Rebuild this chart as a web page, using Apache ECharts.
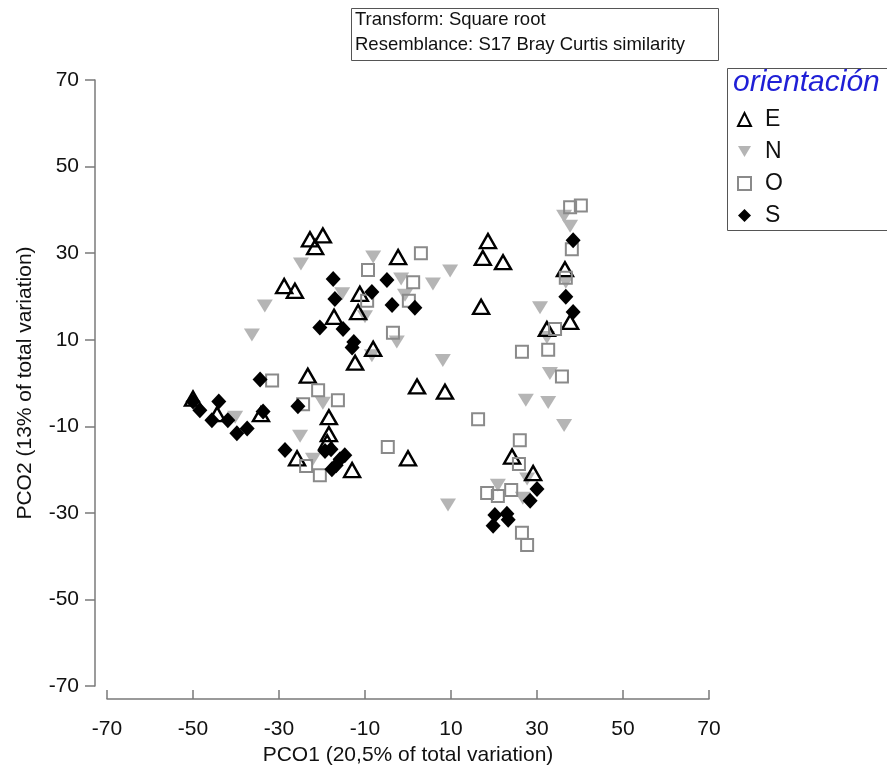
<!DOCTYPE html>
<html>
<head>
<meta charset="utf-8">
<script src="https://cdn.jsdelivr.net/npm/echarts@6/dist/echarts.min.js"></script>
<style>
  html, body { margin: 0; padding: 0; background: #fff; }
  #chart { width: 887px; height: 771px; }
</style>
</head>
<body>
<div id="chart"></div>
<script>
// PCO ordination scores per orientation group
const groupNames = ['E', 'N', 'O', 'S'];

const pointsE = [
  [-22.8, 33.2], [-19.8, 34.1], [-21.6, 31.4], [-28.8, 22.4], [-26.3, 21.3],
  [-17.2, 15.3], [-11.2, 20.6], [-11.6, 16.4], [-8.1, 7.9], [-12.3, 4.7],
  [-2.3, 29.1], [18.6, 32.8], [17.4, 28.9], [22.1, 27.9], [17.0, 17.6],
  [2.1, -0.8], [8.6, -2.0], [-23.3, 1.7], [-50.0, -3.6], [-34.2, -7.2],
  [-44.4, -7.2], [-18.4, -7.9], [-18.4, -11.8], [-18.8, -13.7], [-25.8, -17.4],
  [-13.0, -20.1], [24.2, -17.0], [29.1, -20.8], [0.0, -17.4], [36.5, 26.3],
  [37.7, 14.1], [32.3, 12.5]
];

const pointsN = [
  [-24.9, 27.5], [-33.3, 17.8], [-36.3, 11.1], [-15.3, 20.6], [-8.1, 29.1],
  [-10.0, 15.3], [-1.6, 24.0], [5.8, 22.9], [9.8, 25.9], [-0.7, 20.3],
  [-2.6, 9.5], [8.1, 5.2], [-8.4, 6.3], [36.3, 38.5], [37.7, 36.2],
  [30.7, 17.4], [36.7, 23.3], [32.3, 10.5], [33.0, 2.2], [27.4, -4.0],
  [32.6, -4.5], [36.3, -9.8], [9.3, -28.2], [20.9, -23.6], [27.7, -22.2],
  [26.7, -26.6], [-40.2, -7.9], [-19.8, -4.7], [-25.1, -12.3], [-22.1, -17.6]
];

const pointsO = [
  [-9.3, 26.1], [-9.5, 19.0], [3.0, 30.0], [1.2, 23.3], [0.2, 19.0],
  [-3.5, 11.6], [37.7, 40.6], [40.2, 41.0], [38.1, 30.9], [36.7, 24.3],
  [34.2, 12.5], [32.6, 7.7], [26.5, 7.2], [35.8, 1.5], [16.3, -8.4],
  [26.0, -13.2], [25.8, -18.7], [18.4, -25.4], [20.9, -26.1], [24.0, -24.7],
  [26.5, -34.6], [27.7, -37.4], [-4.7, -14.8], [-31.6, 0.6], [-20.9, -1.7],
  [-16.3, -4.0], [-24.4, -4.9], [-23.7, -19.2], [-20.5, -21.3]
];

const pointsS = [
  [-17.4, 24.0], [-17.0, 19.4], [-20.5, 12.8], [-15.1, 12.5], [-12.6, 9.5],
  [-13.0, 8.2], [-8.4, 21.0], [-4.9, 23.8], [-3.7, 18.0], [1.6, 17.4],
  [38.4, 33.0], [36.7, 19.9], [38.4, 16.4], [30.0, -24.5], [28.4, -27.2],
  [20.2, -30.5], [23.0, -30.2], [23.3, -31.6], [19.8, -33.0], [-34.4, 0.8],
  [-25.6, -5.4], [-33.7, -6.6], [-50.0, -4.3], [-48.4, -6.3], [-44.0, -4.3],
  [-45.6, -8.6], [-41.9, -8.6], [-39.8, -11.6], [-37.4, -10.5], [-28.6, -15.5],
  [-19.3, -15.7], [-17.9, -15.3], [-15.8, -17.6], [-14.7, -16.7], [-17.7, -19.9],
  [-16.7, -19.0]
];

const axisTicks = { min: -70, max: 70, interval: 20 };
const xTitle = 'PCO1 (20,5% of total variation)';
const yTitle = 'PCO2 (13% of total variation)';
const infoLines = ['Transform: Square root', 'Resemblance: S17 Bray Curtis similarity'];
const legendTitle = 'orientación';

const FONT = '"Liberation Sans", Arial, sans-serif';
const AXIS_COLOR = '#7a7a7a';
const DOWN_TRIANGLE = 'path://M0,0L10,0L5,8.6Z';

const chart = echarts.init(document.getElementById('chart'), null, { renderer: 'canvas' });

const baseAxis = {
  type: 'value',
  min: axisTicks.min,
  max: axisTicks.max,
  interval: axisTicks.interval,
  splitLine: { show: false },
  axisLine: { show: true, onZero: false, lineStyle: { color: AXIS_COLOR, width: 1.5 } },
  axisLabel: { color: '#111', fontSize: 21, fontFamily: FONT },
  nameLocation: 'middle',
  nameTextStyle: { color: '#111', fontSize: 21, fontFamily: FONT }
};

const series = [
  {
    name: 'N', type: 'scatter', data: pointsN, symbol: DOWN_TRIANGLE,
    symbolSize: [16, 13], itemStyle: { color: '#b5b5b5', opacity: 1 }, z: 2
  },
  {
    name: 'E', type: 'scatter', data: pointsE, symbol: 'triangle',
    symbolSize: [16, 14], itemStyle: { color: 'rgba(255,255,255,0)', borderColor: '#000', borderWidth: 2.4, opacity: 1 }, z: 3
  },
  {
    name: 'O', type: 'scatter', data: pointsO, symbol: 'rect',
    symbolSize: 12, itemStyle: { color: 'rgba(255,255,255,0)', borderColor: '#8a8a8a', borderWidth: 2, opacity: 1 }, z: 4
  },
  {
    name: 'S', type: 'scatter', data: pointsS, symbol: 'diamond',
    symbolSize: [15, 16], itemStyle: { color: '#000', opacity: 1 }, z: 5
  }
];

chart.setOption({
  animation: false,
  backgroundColor: '#fff',
  grid: { left: 107, right: 178, top: 80, bottom: 82, containLabel: false },
  xAxis: Object.assign({}, baseAxis, {
    offset: 13,
    axisTick: { show: true, inside: true, length: 9, lineStyle: { color: AXIS_COLOR, width: 1.5 } },
    axisLabel: Object.assign({}, baseAxis.axisLabel, { margin: 20 }),
    name: xTitle,
    nameGap: 46
  }),
  yAxis: Object.assign({}, baseAxis, {
    offset: 12,
    axisTick: { show: true, inside: false, length: 10, lineStyle: { color: AXIS_COLOR, width: 1.5 } },
    axisLabel: Object.assign({}, baseAxis.axisLabel, { margin: 16 }),
    name: yTitle,
    nameGap: 59
  }),
  legend: {
    data: [
      { name: 'E' },
      { name: 'N', icon: DOWN_TRIANGLE },
      { name: 'O' },
      { name: 'S' }
    ],
    orient: 'vertical',
    left: 732,
    top: 103,
    itemWidth: 13,
    itemHeight: 13,
    itemGap: 9,
    textStyle: { color: '#111', fontSize: 23, fontFamily: FONT, lineHeight: 23, padding: [0, 0, 0, 9] },
    selectedMode: false
  },
  graphic: [
    {
      type: 'rect', left: 351, top: 8, z: 10,
      shape: { width: 367, height: 52 },
      style: { fill: '#fff', stroke: '#555', lineWidth: 1 }
    },
    {
      type: 'text', left: 355, top: 10, z: 11,
      style: { text: infoLines[0], fill: '#111', font: '18.5px ' + FONT }
    },
    {
      type: 'text', left: 355, top: 35, z: 11,
      style: { text: infoLines[1], fill: '#111', font: '18.5px ' + FONT }
    },
    {
      type: 'rect', left: 727, top: 68, z: 0,
      shape: { width: 200, height: 162 },
      style: { fill: '#fff', stroke: '#555', lineWidth: 1 }
    },
    {
      type: 'text', left: 733, top: 68, z: 11,
      style: { text: legendTitle, fill: '#1f1fd6', font: 'italic 30px ' + FONT }
    }
  ],
  series: series
});
</script>
</body>
</html>
